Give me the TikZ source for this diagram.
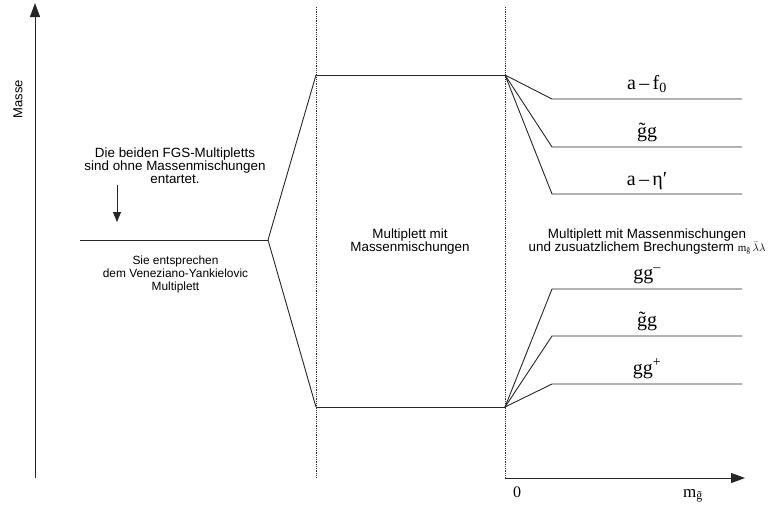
\documentclass[tikz,border=0pt]{standalone}
\usepackage{fontspec}
\setmainfont{Liberation Serif}
\setsansfont{Liberation Sans}
\usetikzlibrary{arrows.meta}
\begin{document}
\begin{tikzpicture}[x=1pt,y=-1pt,
  lvl/.style={line width=0.9pt,draw=black!85},
  sep/.style={line width=0.8pt,densely dotted,draw=black!80},
  axis/.style={line width=0.9pt,draw=black!85,-{Triangle[length=14pt,width=10pt]}},
  pointer/.style={line width=0.9pt,draw=black!85,-{Triangle[length=10pt,width=8pt]}},
  big/.style={font=\sffamily\fontsize{13.4}{12.8}\selectfont,align=center,inner sep=0pt,anchor=base},
  small/.style={font=\sffamily\fontsize{11.9}{13}\selectfont,align=center,inner sep=0pt,anchor=base},
  lab/.style={font=\fontsize{20}{20}\selectfont,inner sep=0pt,anchor=base}]
\useasboundingbox (0,0) rectangle (770,504);
% axes
\coordinate (yb) at (35,478);
\coordinate (yt) at (35,3);
\coordinate (xl) at (505,478);
\coordinate (xr) at (745,478);
\draw[axis] (yb) -- (yt);
\draw[axis] (xl) -- (xr);
\node[font=\sffamily\fontsize{13}{13}\selectfont,rotate=90,inner sep=0pt] (masse) at (18,99) {Masse};
\node[font=\fontsize{16}{16}\selectfont,inner sep=0pt] (zero) at (517,492) {0};
\node[lab,font=\fontsize{17}{17}\selectfont] (mg) at (693,497) {m\textsubscript{\~{g}}};
% separators
\coordinate (s1t) at (316,7); \coordinate (s1b) at (316,478);
\coordinate (s2t) at (505,7); \coordinate (s2b) at (505,478);
\draw[sep] (s1t) -- (s1b);
\draw[sep] (s2t) -- (s2b);
% levels
\coordinate (L0) at (80,240);
\coordinate (L1) at (268,240);
\coordinate (T0) at (316,75);
\coordinate (T1) at (505,75);
\coordinate (B0) at (316,407);
\coordinate (B1) at (505,407);
\draw[lvl] (L0) -- (L1);
\draw[lvl] (T0) -- (L1) -- (B0);
\draw[lvl] (T0) -- (T1);
\draw[lvl] (B0) -- (B1);
% split upper
\coordinate (u1a) at (552,99);  \coordinate (u1b) at (742,99);
\coordinate (u2a) at (552,147); \coordinate (u2b) at (742,147);
\coordinate (u3a) at (552,194); \coordinate (u3b) at (742,194);
\draw[lvl] (T1) -- (u1a) -- (u1b);
\draw[lvl] (T1) -- (u2a) -- (u2b);
\draw[lvl] (T1) -- (u3a) -- (u3b);
% split lower
\coordinate (d1a) at (552,289); \coordinate (d1b) at (742,289);
\coordinate (d2a) at (552,336); \coordinate (d2b) at (742,336);
\coordinate (d3a) at (552,384); \coordinate (d3b) at (742,384);
\draw[lvl] (B1) -- (d1a) -- (d1b);
\draw[lvl] (B1) -- (d2a) -- (d2b);
\draw[lvl] (B1) -- (d3a) -- (d3b);
% labels
\node[lab] (af) at (647,89) {a\,–\,f\textsubscript{0}};
\node[lab] (gg1) at (647,137) {\~{g}g};
\node[lab] (aeta) at (647,185) {a\,–\,η′};
\node[lab] (ggm) at (647,279) {gg\textsuperscript{–}};
\node[lab] (gg2) at (647,326) {\~{g}g};
\node[lab] (ggp) at (647,374) {gg\textsuperscript{+}};
% texts
\node[big] (t1) at (175,183) {Die beiden FGS-Multipletts\\sind ohne Massenmischungen\\entartet.};
\coordinate (a1) at (117,185);
\coordinate (a2) at (117,222);
\draw[pointer] (a1) -- (a2);
\node[small] (t2) at (175.5,290) {Sie entsprechen\\dem Veneziano-Yankielovic\\Multiplett};
\node[big] (t3) at (410,251) {Multiplett mit\\Massenmischungen};
\node[big] (t4) at (647,251) {Multiplett mit Massenmischungen\\und zusuatzlichem Brechungsterm {\rmfamily\fontsize{11}{11}\selectfont m\textsubscript{\~{g}}\,$\bar{\lambda}\lambda$}};
\end{tikzpicture}
\end{document}
